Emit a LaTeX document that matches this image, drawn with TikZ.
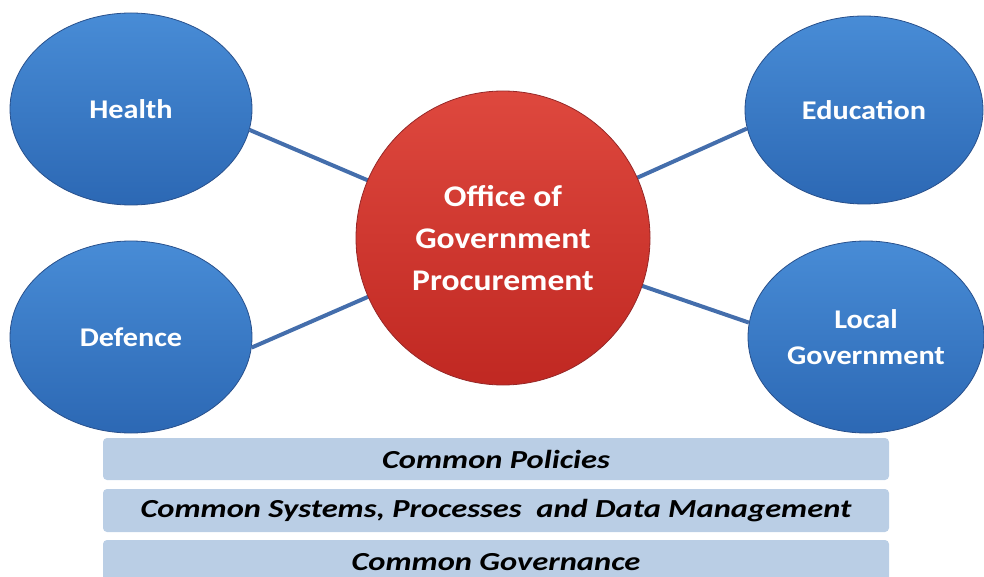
\documentclass[tikz,border=0pt]{standalone}
\usepackage{fontspec}
\setmainfont{Carlito}
\newfontfamily\wideface[FakeStretch=1.12]{Carlito}
\newfontfamily\barface[FakeStretch=1.25]{Carlito}
\usetikzlibrary{shapes.geometric}

\definecolor{bluetop}{RGB}{72,140,214}
\definecolor{bluebot}{RGB}{44,104,180}
\definecolor{blueedge}{RGB}{40,80,140}
\definecolor{redtop}{RGB}{222,72,62}
\definecolor{redbot}{RGB}{192,40,34}
\definecolor{rededge}{RGB}{150,40,40}
\definecolor{linkblue}{RGB}{68,110,172}
\definecolor{barfill}{RGB}{186,206,229}

\tikzset{
  sector/.style={ellipse, minimum width=242pt, minimum height=192pt, inner sep=0pt,
    top color=bluetop, bottom color=bluebot, draw=blueedge, line width=0.8pt,
    text=white, align=center, font=\wideface\fontsize{27}{36}\selectfont\bfseries},
  hub/.style={circle, minimum size=294pt, inner sep=0pt,
    top color=redtop, bottom color=redbot, draw=rededge, line width=0.8pt,
    text=white, align=center, font=\wideface\fontsize{30}{42}\selectfont\bfseries},
  layer/.style={rectangle, rounded corners=4pt, fill=barfill, minimum width=786pt,
    inner sep=0pt, font=\barface\fontsize{26}{30}\selectfont\bfseries\itshape},
  link/.style={draw=linkblue, line width=4pt}
}

\begin{document}
\begin{tikzpicture}[x=1pt, y=-1pt]
        \useasboundingbox (0,0) rectangle (984,577);

        % Lag
        \node[layer, minimum height=42pt] (pol) at (496,459) {Common Policies};
        \node[layer, minimum height=43pt] (sys) at (496,510.5) {Common Systems, Processes\ \ and Data Management};
        \node[layer, minimum height=44pt] (gov) at (496,562) {Common Governance};

        % Kanter
        \coordinate (c) at (503,238);
        \node[sector] (hea) at (131,109) {Health};
        \node[sector] (def) at (131,337) {Defence};
        \node[sector, minimum width=238pt, minimum height=188pt] (edu) at (864,110) {Education};
        \node[sector, minimum width=236pt, minimum height=192pt] (loc) at (866,337) {Local\\Government};

        \draw[link] (hea.-10) to (c);
        \draw[link] (def.-5) to (c);
        \draw[link] (edu.189) to (c);
        \draw[link] (loc.173) to (c);

        % Noder
        \node[hub] (ogp) at (c) {Office of\\Government\\Procurement};
\end{tikzpicture}
\end{document}
